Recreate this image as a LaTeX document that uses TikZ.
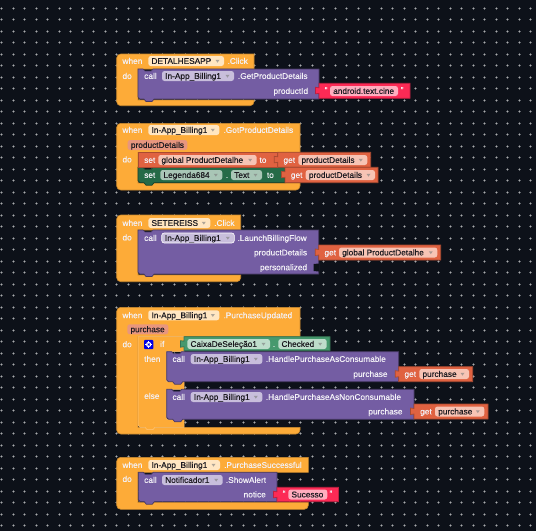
\documentclass[tikz,border=0pt]{standalone}
\usepackage{fontspec}
\setmainfont{Liberation Sans}
\definecolor{bgc}{HTML}{0D1119}
\definecolor{orangec}{HTML}{FDAB38}
\definecolor{orangeh}{HTML}{FFC67A}
\definecolor{purplec}{HTML}{745DA3}
\definecolor{redc}{HTML}{FC2A55}
\definecolor{getc}{HTML}{E06241}
\definecolor{setgreen}{HTML}{256A47}
\definecolor{getgreen}{HTML}{46996E}
\definecolor{ford}{HTML}{FFE6C2}
\definecolor{fpurple}{HTML}{C8BEDC}
\definecolor{fred}{HTML}{FFAEBF}
\definecolor{fget}{HTML}{F7C4B5}
\definecolor{fsetg}{HTML}{A9C6B6}
\definecolor{fgetg}{HTML}{BEDDCB}
\definecolor{fparam}{HTML}{E8967E}
\definecolor{dotc}{HTML}{5F6369}
\definecolor{dotm}{HTML}{ABABAB}
\definecolor{wtxt}{HTML}{F3F1F7}
\definecolor{dtxt}{HTML}{1C1A20}
\newcounter{lab}
\tikzset{
  txtbase/.style={font=\fontsize{8.3}{10}\selectfont\addfontfeatures{FakeBold=0.3},inner sep=0pt,text height=6pt,text depth=1.8pt,yshift=-0.8pt},
  lbl/.style={txtbase,anchor=west,text=wtxt},
  lblr/.style={txtbase,anchor=east,text=wtxt},
  flbl/.style={txtbase,anchor=west,text=dtxt},
  hat/.style={line width=0.6pt,draw=orangec!80!black,fill=orangec},
}
% label helpers
\newcommand{\Lbl}[3]{\stepcounter{lab}\node[lbl] (t\arabic{lab}) at (#1,#2) {#3};}
\newcommand{\Lbr}[3]{\stepcounter{lab}\node[lblr] (t\arabic{lab}) at (#1,#2) {#3};}
% field: fill, x0, x1, y, text  (with dropdown arrow)
\newcommand{\Fld}[5]{\stepcounter{lab}
  \fill[#1,rounded corners=2.5pt] (#2,#4-5) rectangle (#3,#4+5);
  \node[flbl] (t\arabic{lab}) at (#2+3,#4) {#5};
  \fill[#1!55!black!70!white] (#3-8.5,#4-1.2) -- (#3-4.5,#4-1.2) -- (#3-6.5,#4+1.6) -- cycle;}
% field without arrow
\newcommand{\FldN}[5]{\stepcounter{lab}
  \fill[#1,rounded corners=2.5pt] (#2,#4-5) rectangle (#3,#4+5);
  \node[flbl] (t\arabic{lab}) at (#2+3,#4) {#5};}
% when block: yTop, xRight, yHead, yInnerBottom, yBottom
\newcommand{\Whenb}[5]{
  \draw[hat] (#2,#1) [rounded corners=4pt] -- (116.7,#1) -- (116.7,#5) -- (#2,#5) [sharp corners] -- (#2,#4) -- (138,#4) -- (138,#3) -- (#2,#3) -- cycle;}
% statement block with notch and bottom tab: colour, x0, y0, x1, y1
\newcommand{\Stmt}[5]{
  \draw[fill=#1,draw=#1!62!black,line width=0.7pt]
    (#2,#3) -- (#2+5,#3) -- (#2+7,#3+2) -- (#2+13,#3+2) -- (#2+15,#3) -- (#4,#3) -- (#4,#5)
    -- (#2+16,#5) -- (#2+14,#5+2.5) -- (#2+8,#5+2.5) -- (#2+6,#5) -- (#2+2,#5) -- (#2,#5-2) -- cycle;}
% value block with left tab: colour, x0, y0, x1, y1
\newcommand{\Val}[5]{
  \draw[fill=#1,draw=#1!75!black,line width=0.7pt]
    (#2,#3) -- (#4,#3) -- (#4,#5) -- (#2,#5) -- (#2,#3+10) -- (#2-3.5,#3+10.5) -- (#2-3.5,#3+4) -- (#2,#3+4.5) -- cycle;}
\begin{document}
\begin{tikzpicture}[x=1pt,y=-1pt]
\useasboundingbox (0,0) rectangle (536,531);
\fill[bgc] (0,0) rectangle (536,531);
% dot grid
\foreach \i in {0,...,46}{\foreach \j in {0,...,45}{
  \pgfmathsetmacro{\px}{1.7+11.5*\i}\pgfmathsetmacro{\py}{8.3+11.5*\j}
  \fill[dotc] (\px-1.6,\py-0.5) rectangle (\px+1.6,\py+0.5);
  \fill[dotc] (\px-0.5,\py-1.6) rectangle (\px+0.5,\py+1.6);
  \fill[dotm] (\px-0.6,\py-0.6) rectangle (\px+0.6,\py+0.6);
}}
% ---------- block 1
\Whenb{54}{254}{69}{100}{105.7}
\Stmt{purplec}{138}{69}{319}{99}
\Val{redc}{319}{83.3}{410}{98.3}
\Lbl{122.3}{61}{when}
\Fld{ford}{148.3}{224}{61}{DETALHESAPP}
\Lbl{227.3}{61}{.Click}
\Lbl{122.3}{76}{do}
\Lbl{144}{76}{call}
\Fld{fpurple}{162}{234}{76}{In-App\_Billing1}
\Lbl{237.7}{76}{.GetProductDetails}
\Lbr{308.3}{91}{productId}
\Lbl{324.5}{90}{\textquotedblleft}
\FldN{fred}{330}{398}{91}{android.text.cine}
\Lbl{400.5}{90}{\textquotedblright}
% ---------- block 2
\Whenb{123.3}{300}{152.3}{183}{190}
\Stmt{setgreen}{138}{167.3}{285}{182.7}
\draw[fill=getc,draw=getc!75!black,line width=0.7pt] (138,152.3) -- (277.7,152.3) -- (277.7,167.3) -- (138,167.3) -- cycle;
\Val{getc}{277.7}{152.3}{370.7}{167.3}
\Val{getc}{285}{167.3}{378}{182.7}
\Lbl{122.3}{130}{when}
\Fld{ford}{148.3}{219.3}{130}{In-App\_Billing1}
\Lbl{223.3}{130}{.GotProductDetails}
\FldN{fparam}{127.7}{187.3}{145}{productDetails}
\Lbl{122.3}{159.5}{do}
\Lbl{144}{160}{set}
\Fld{fget}{158.3}{256.7}{160}{global ProductDetalhe}
\Lbl{259.3}{160}{to}
\Lbl{283.3}{160}{get}
\Fld{fget}{298.3}{367.3}{160}{productDetails}
\Lbl{144}{175}{set}
\Fld{fsetg}{160.3}{222.3}{175}{Legenda684}
\Lbl{225.7}{175}{.}
\Fld{fsetg}{231}{262}{175}{Text}
\Lbl{266.7}{175}{to}
\Lbl{290.7}{175}{get}
\Fld{fget}{305.7}{375}{175}{productDetails}
% ---------- block 3
\Whenb{215}{240.7}{230}{275}{281.7}
\Stmt{purplec}{138}{230}{318.7}{274}
\fill[bgc] (318.9,263.5) -- (313.5,264) -- (313.5,271) -- (318.9,271.5) -- cycle;
\Val{getc}{318.7}{245}{440.7}{260}
\Lbl{122.3}{223}{when}
\Fld{ford}{148.3}{210.3}{223}{SETEREISS}
\Lbl{214}{223}{.Click}
\Lbl{122.3}{237.5}{do}
\Lbl{144}{238}{call}
\Fld{fpurple}{161.7}{234.3}{238}{In-App\_Billing1}
\draw[white,line width=0.6pt,rounded corners=2.5pt] (161.7,233) rectangle (234.3,243);
\Lbl{237.3}{238}{.LaunchBillingFlow}
\Lbr{307.3}{252.5}{productDetails}
\Lbr{307.3}{267.3}{personalized}
\Lbl{324.3}{252.5}{get}
\Fld{fget}{339}{437.3}{252.5}{global ProductDetalhe}
% ---------- block 4
\Whenb{307.3}{300}{336.7}{427.3}{434}
\draw[fill=orangec,draw=orangeh,line width=0.5pt] (138,336.7) -- (184,336.7) -- (184,351.7) -- (166.7,351.7) -- (166.7,381.7) -- (184,381.7) -- (184,389.3) -- (166.7,389.3) -- (166.7,419.3) -- (184,419.3) -- (184,427.3) -- (155,427.3) -- (153,429.5) -- (147,429.5) -- (145,427.3) -- (140,427.3) -- (138,425) -- cycle;
\Stmt{purplec}{166.7}{351.7}{398.7}{381.7}
\Stmt{purplec}{166.7}{389.3}{414}{419.3}
\Val{getgreen}{184}{336.7}{330}{350.7}
\Val{getc}{398.7}{366.7}{472.7}{381.7}
\Val{getc}{414}{404}{488}{419}
\Lbl{122.3}{315.3}{when}
\Fld{ford}{148.3}{219.3}{315.3}{In-App\_Billing1}
\Lbl{223.3}{315.3}{.PurchaseUpdated}
\FldN{fparam}{127.3}{168.3}{329.3}{purchase}
\Lbl{122.3}{344.3}{do}
\fill[blue!90!black,rounded corners=1pt] (144,339.8) rectangle (153.3,349.2);
\draw[white,line width=1pt] (148.65,344.5) circle (2.1pt);
\draw[white,line width=0.7pt] (148.65,341.2) -- (148.65,347.8) (145.4,344.5) -- (151.9,344.5);
\fill[blue!90!black] (148.65,344.5) circle (1.1pt);
\Lbl{160}{344}{if}
\Fld{fgetg}{187.3}{270}{344}{CaixaDeSeleção1}
\Lbl{272.7}{344}{.}
\Fld{fgetg}{278.3}{326.7}{344}{Checked}
\Lbl{144}{359}{then}
\Lbl{144}{396}{else}
\Lbl{172.3}{359}{call}
\Fld{fpurple}{190.7}{262.3}{359}{In-App\_Billing1}
\Lbl{265.7}{359}{.HandlePurchaseAsConsumable}
\Lbr{387.7}{374}{purchase}
\Lbl{404.3}{374}{get}
\Fld{fget}{419.3}{469}{374}{purchase}
\Lbl{172.3}{397}{call}
\Fld{fpurple}{190.7}{262.3}{397}{In-App\_Billing1}
\Lbl{265.7}{397}{.HandlePurchaseAsNonConsumable}
\Lbr{402.7}{411.5}{purchase}
\Lbl{420}{411.5}{get}
\Fld{fget}{435}{484.3}{411.5}{purchase}
% ---------- block 5
\Whenb{457.3}{308.3}{472.3}{502.5}{509.3}
\Stmt{purplec}{138.3}{472.3}{277}{501.7}
\Val{redc}{277}{487.3}{338.5}{501.7}
\Lbl{122.3}{465}{when}
\Fld{ford}{148.3}{220}{465}{In-App\_Billing1}
\Lbl{224}{465}{.PurchaseSuccessful}
\Lbl{122.3}{479}{do}
\Lbl{144}{480}{call}
\Fld{fpurple}{162}{222.7}{480}{Notificador1}
\Lbl{225.7}{480}{.ShowAlert}
\Lbr{266}{494.5}{notice}
\Lbl{282.5}{493.5}{\textquotedblleft}
\FldN{fred}{288.3}{327.3}{494.5}{Sucesso}
\Lbl{329.3}{493.5}{\textquotedblright}
\end{tikzpicture}
\end{document}
